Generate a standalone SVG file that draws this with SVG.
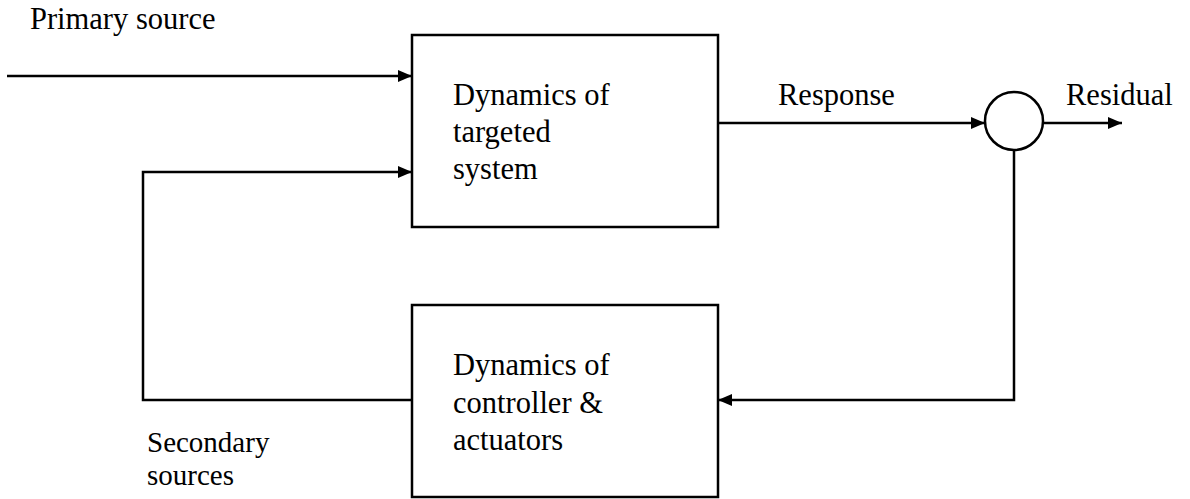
<svg xmlns="http://www.w3.org/2000/svg" width="1190" height="499" viewBox="0 0 1190 499">
<style>
text{font-family:"Liberation Serif","Times New Roman",serif;font-size:30.5px;fill:#000}
.s{font-size:29px}
.b{fill:#fff;stroke:#000;stroke-width:2.5}
.c{fill:none;stroke:#000;stroke-width:2.5}
</style>
<defs>
<marker id="ah" viewBox="0 0 14 12" refX="14" refY="6" markerWidth="14" markerHeight="12" markerUnits="userSpaceOnUse" orient="auto">
<path d="M0,0 L14,6 L0,12 z" fill="#000"/>
</marker>
</defs>
<rect width="1190" height="499" fill="#fff"/>
<g id="connectors">
<line class="c" x1="7" y1="76" x2="412" y2="76" marker-end="url(#ah)"/>
<polyline class="c" points="412,400 143,400 143,172 412,172" marker-end="url(#ah)"/>
<line class="c" x1="718" y1="123" x2="985" y2="123" marker-end="url(#ah)"/>
<line class="c" x1="1044" y1="123" x2="1122" y2="123" marker-end="url(#ah)"/>
<polyline class="c" points="1014,150 1014,400 718,400" marker-end="url(#ah)"/>
</g>
<g id="labels">
<text x="30" y="29">Primary source</text>
<text x="778" y="105">Response</text>
<text x="1066" y="105">Residual</text>
<text class="s" x="147" y="452">Secondary</text>
<text class="s" x="147" y="485">sources</text>
</g>
<g id="target">
<rect class="b" x="412" y="35" width="306" height="192"/>
<text x="453" y="105">Dynamics of</text>
<text x="453" y="142">targeted</text>
<text x="453" y="179">system</text>
</g>
<g id="controller">
<rect class="b" x="412" y="305" width="306" height="192"/>
<text x="453" y="375">Dynamics of</text>
<text x="453" y="413">controller &amp;</text>
<text x="453" y="450">actuators</text>
</g>
<g id="sum">
<circle class="b" cx="1014" cy="121" r="29"/>
</g>
</svg>
